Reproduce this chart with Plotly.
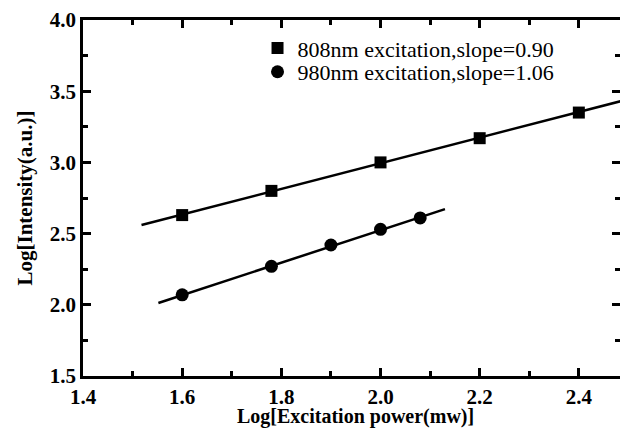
import plotly.graph_objects as go

# 808 nm excitation data
x808 = [1.60, 1.78, 2.00, 2.20, 2.40]
y808 = [2.63, 2.80, 3.00, 3.17, 3.35]
# 980 nm excitation data
x980 = [1.60, 1.78, 1.90, 2.00, 2.08]
y980 = [2.07, 2.27, 2.42, 2.53, 2.61]
# linear fit lines (endpoints)
fit808_x = [1.518, 2.49]
fit808_y = [2.56, 3.435]
fit980_x = [1.552, 2.13]
fit980_y = [2.013, 2.672]

label808 = "808nm excitation,slope=0.90"
label980 = "980nm excitation,slope=1.06"
xtitle = "Log[Excitation power(mw)]"
ytitle = "Log[Intensity(a.u.)]"

xticks = [1.4, 1.6, 1.8, 2.0, 2.2, 2.4]
yticks = [1.5, 2.0, 2.5, 3.0, 3.5, 4.0]

serif = "Liberation Serif, Times New Roman, serif"

fig = go.Figure()
fig.add_trace(go.Scatter(x=fit808_x, y=fit808_y, mode="lines",
                         line=dict(color="black", width=2.5), showlegend=False, hoverinfo="skip"))
fig.add_trace(go.Scatter(x=fit980_x, y=fit980_y, mode="lines",
                         line=dict(color="black", width=2.5), showlegend=False, hoverinfo="skip"))
fig.add_trace(go.Scatter(x=x808, y=y808, mode="markers", name=label808, legend="legend",
                         marker=dict(symbol="square", size=12, color="black")))
fig.add_trace(go.Scatter(x=x980, y=y980, mode="markers", name=label980, legend="legend2",
                         marker=dict(symbol="circle", size=13, color="black")))

axis_common = dict(
    showline=True, linecolor="black", linewidth=2.5, mirror="ticks",
    ticks="inside", ticklen=8, tickwidth=2.5, tickcolor="black",
    showgrid=False, zeroline=False, automargin=False,
    tickfont=dict(family=serif, size=21, color="black", weight="bold"),
)

legend_common = dict(xanchor="left", yanchor="middle",
                     bgcolor="rgba(0,0,0,0)", borderwidth=0,
                     font=dict(family=serif, size=22, color="black"),
                     itemsizing="trace")

fig.update_layout(
    width=620, height=430,
    margin=dict(l=83, r=0, t=20, b=54),
    paper_bgcolor="white", plot_bgcolor="white",
    xaxis=dict(range=[1.4, 2.483], tickmode="array", tickvals=xticks,
               ticktext=["<b>%.1f</b>" % v for v in xticks],
               minor=dict(ticks="inside", ticklen=5, tickwidth=2.5, tickcolor="black",
                          tickmode="linear", dtick=0.1, tick0=1.4, showgrid=False),
               **axis_common),
    yaxis=dict(range=[1.5, 4.0], tickmode="array", tickvals=yticks,
               ticktext=["<b>%.1f</b>" % v for v in yticks],
               minor=dict(ticks="inside", ticklen=5, tickwidth=2.5, tickcolor="black",
                          tickmode="linear", dtick=0.25, tick0=1.5, showgrid=False),
               title=dict(text="<b>%s</b>" % ytitle, standoff=12,
                          font=dict(family=serif, size=21, color="black")),
               **axis_common),
    legend=dict(x=0.325, y=0.921, **legend_common),
    legend2=dict(x=0.325, y=0.854, **legend_common),
    showlegend=True,
    annotations=[dict(text="<b>%s</b>" % xtitle, xref="paper", yref="paper",
                      x=0.508, y=-0.1517, xanchor="center", yanchor="bottom",
                      showarrow=False,
                      font=dict(family=serif, size=20, color="black"))],
)

fig.write_html("out.html")
